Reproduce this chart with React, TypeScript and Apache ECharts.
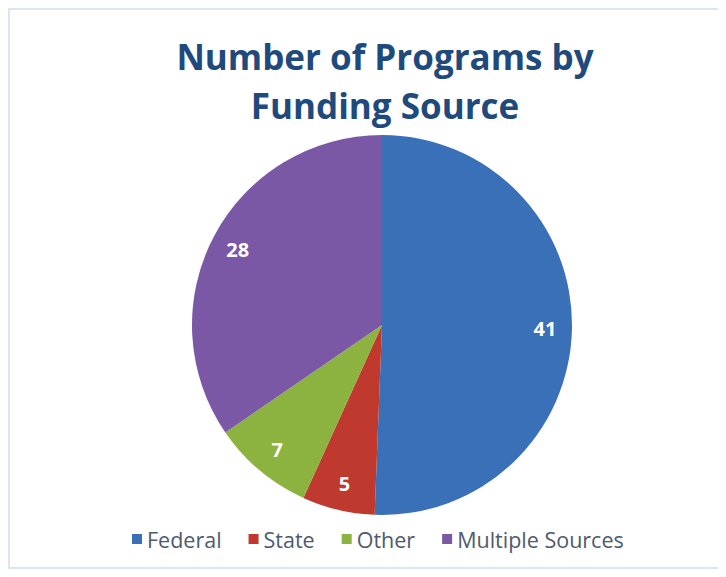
import React, { useEffect, useRef } from "react";
import * as echarts from "echarts";

const categories = ["Federal", "State", "Other", "Multiple Sources"];
const values = [41, 5, 7, 28];
const colors = ["#3A70B7", "#C0392F", "#8CB33F", "#7A58A6"];
const titleText = "Number of Programs by\nFunding Source";

export default function App() {
  const ref = useRef<HTMLDivElement>(null);
  useEffect(() => {
    if (!ref.current) return;
    const chart = echarts.init(ref.current, undefined, { renderer: "svg" });
    const data = categories.map((name, i) => ({
      name,
      value: values[i],
      itemStyle: { color: colors[i] },
    }));
    chart.setOption({
      animation: false,
      backgroundColor: "#ffffff",
      title: {
        text: titleText,
        left: 370,
        textAlign: "center",
        top: 17,
        textStyle: {
          fontFamily: "Open Sans",
          fontWeight: "bold",
          fontSize: 35,
          lineHeight: 49,
          color: "#1F4A7C",
        },
      },
      legend: {
        data: categories,
        bottom: 12,
        left: 117,
        icon: "rect",
        itemWidth: 10,
        itemHeight: 10,
        itemGap: 27,
        textStyle: {
          fontFamily: "Open Sans",
          fontSize: 21.5,
          color: "#4E5A6E",
        },
      },
      series: [
        {
          type: "pie",
          center: [372, 315],
          radius: [0, 190],
          startAngle: 90,
          clockwise: true,
          data,
          label: { show: false },
          labelLine: { show: false },
          itemStyle: { borderWidth: 0 },
          emphasis: { disabled: true },
        },
        {
          type: "pie",
          center: [372, 315],
          radius: [130, 190],
          startAngle: 90,
          clockwise: true,
          silent: true,
          data: categories.map((name, i) => ({ name, value: values[i] })),
          itemStyle: { color: "rgba(0,0,0,0)", borderWidth: 0 },
          label: {
            show: true,
            position: "inside",
            formatter: "{c}",
            fontFamily: "Open Sans",
            fontWeight: "bold",
            fontSize: 20,
            color: "#ffffff",
          },
          labelLine: { show: false },
          emphasis: { disabled: true },
        },
      ],
    });
    return () => chart.dispose();
  }, []);
  return (
    <div
      ref={ref}
      style={{
        width: 710,
        height: 561,
        boxSizing: "border-box",
        borderLeft: "2px solid #DCE6F2",
        borderTop: "2px solid #DCE6F2",
        borderBottom: "2px solid #DCE6F2",
      }}
    />
  );
}
